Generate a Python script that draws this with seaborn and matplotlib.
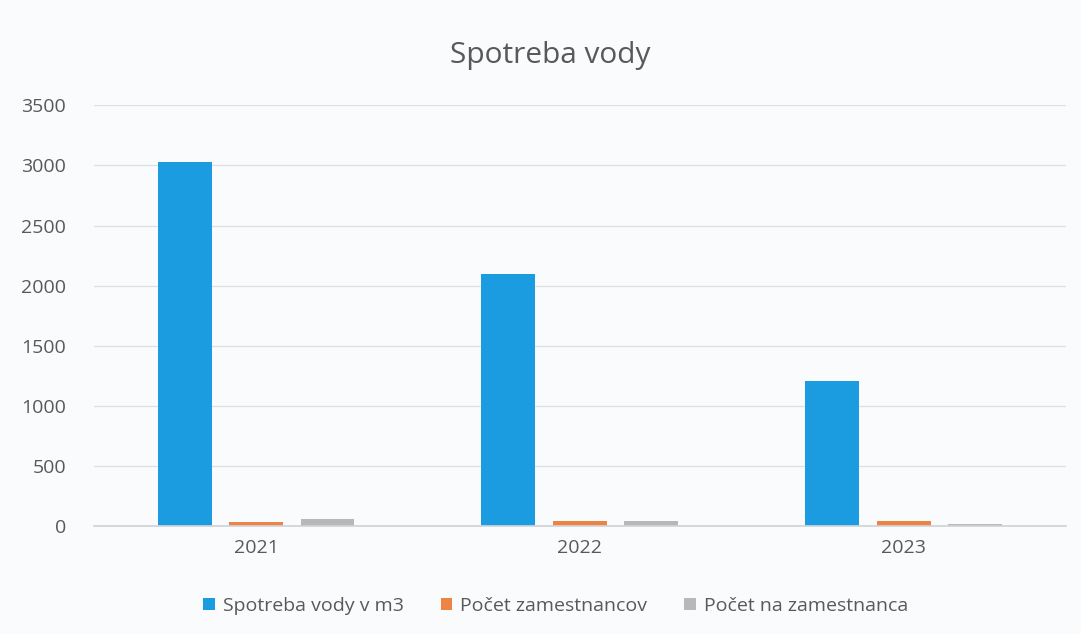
import pandas as pd
import matplotlib.pyplot as plt
import seaborn as sns
from matplotlib.patches import Patch

YEARS = ["2021", "2022", "2023"]
SERIES = ["Spotreba vody v m3", "Počet zamestnancov", "Počet na zamestnanca"]
WATER = [3025, 2095, 1205]
EMPLOYEES = [38, 40, 42]
PER_EMPLOYEE = [62, 40, 22]
COLORS = ["#1b9be0", "#ee8444", "#b8b8b8"]

df = pd.DataFrame({
    "year": YEARS * 3,
    "series": [s for s in SERIES for _ in YEARS],
    "value": WATER + EMPLOYEES + PER_EMPLOYEE,
})

sns.set_theme(style="white")
plt.rcParams["font.family"] = ["Open Sans", "DejaVu Sans"]
text_col = "#595959"

fig = plt.figure(figsize=(10.81, 6.34), dpi=100, facecolor="#fafbfd")
ax = fig.add_axes([0.087, 0.170, 0.899, 0.664])
ax.set_facecolor("#fafbfd")

sns.barplot(data=df, x="year", y="value", hue="series", hue_order=SERIES,
            palette=COLORS, saturation=1, width=0.662, gap=0.245,
            linewidth=0, ax=ax, legend=False)

ax.set_ylim(0, 3500)
ax.set_xlim(-0.5, 2.5)
ax.set_yticks(range(0, 3501, 500))
ax.yaxis.grid(True, color="#dcdfe3", linewidth=0.9)
ax.set_axisbelow(True)
for side in ["top", "right", "left"]:
    ax.spines[side].set_visible(False)
ax.spines["bottom"].set_color("#d0d3d8")
ax.tick_params(axis="both", length=0, colors=text_col, labelsize=14)
ax.tick_params(axis="y", pad=20)
ax.tick_params(axis="x", pad=9)
ax.set_xlabel("")
ax.set_ylabel("")

fig.text(0.509, 0.912, "Spotreba vody", ha="center", va="center",
         fontsize=21.5, color=text_col)

handles = [Patch(facecolor=c, edgecolor="none") for c in COLORS]
fig.legend(handles, SERIES, loc="center", bbox_to_anchor=(0.514, 0.044),
           ncol=3, frameon=False, fontsize=14, labelcolor=text_col,
           handlelength=0.6, handleheight=0.6, handletextpad=0.4,
           columnspacing=1.9)

fig.savefig("out.png", dpi=100, facecolor=fig.get_facecolor())
